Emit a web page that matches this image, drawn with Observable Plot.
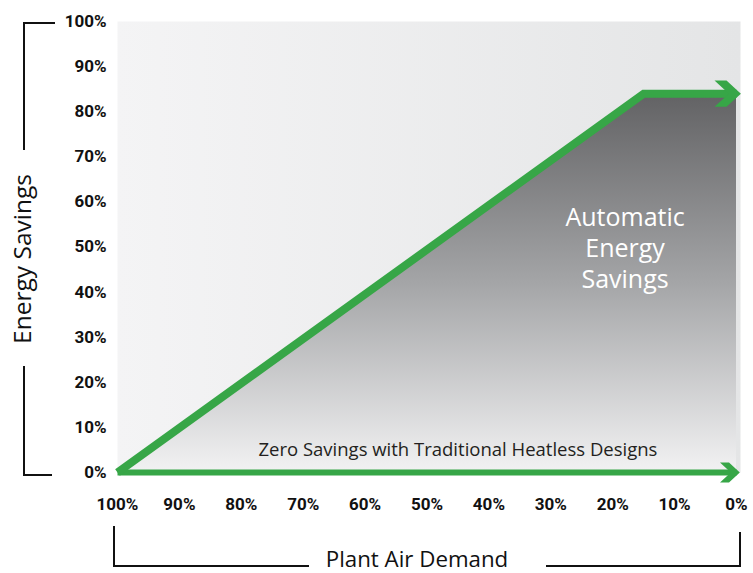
<!DOCTYPE html>
<html><head><meta charset="utf-8">
<script src="https://cdn.jsdelivr.net/npm/d3@7"></script>
<script src="https://cdn.jsdelivr.net/npm/@observablehq/plot@0.6"></script>
<style>
html,body{margin:0;padding:0;background:#fff;}
#chart svg{display:block;}
</style></head><body><div id="chart"></div>
<script>
// ---- data ----
const demandTicks = [100, 90, 80, 70, 60, 50, 40, 30, 20, 10, 0];
const savingsTicks = [0, 10, 20, 30, 40, 50, 60, 70, 80, 90, 100];
const curveDemand = [100, 15, 0];
const curveSavings = [0, 84, 84];
const baseDemand = [100, 0];
const baseSavings = [0, 0];
const xTitle = "Plant Air Demand";
const yTitle = "Energy Savings";
const areaNote = "Automatic\nEnergy\nSavings";
const baseNote = "Zero Savings with Traditional Heatless Designs";

const curve = curveDemand.map((d, i) => ({demand: d, savings: curveSavings[i]}));
const base = baseDemand.map((d, i) => ({demand: d, savings: baseSavings[i]}));

const green = "#37a647";
const tickFont = 'Roboto,"Liberation Sans Narrow","DejaVu Sans Condensed",sans-serif';
const textFont = '"Open Sans","Noto Sans",sans-serif';

function chevron(color) {
  const ns = "http://www.w3.org/2000/svg";
  const m = document.createElementNS(ns, "marker");
  m.setAttribute("viewBox", "-3 -2 4 4");
  m.setAttribute("markerWidth", 4);
  m.setAttribute("markerHeight", 4);
  m.setAttribute("refX", 0);
  m.setAttribute("refY", 0);
  m.setAttribute("orient", "auto");
  m.setAttribute("overflow", "visible");
  const p = document.createElementNS(ns, "path");
  p.setAttribute("d", "M-2.75,-1.65L-1.25,-1.65L0.55,0L-1.25,1.65L-2.75,1.65L-0.95,0Z");
  p.setAttribute("fill", color);
  p.setAttribute("stroke", "none");
  m.appendChild(p);
  return m;
}

function decor(index, scales, values, dims) {
  const g = d3.create("svg:g");
  const defs = g.append("defs");
  const bg = defs.append("linearGradient").attr("id", "bgGrad")
    .attr("x1", 0).attr("x2", 1).attr("y1", 0).attr("y2", 0);
  bg.append("stop").attr("offset", 0).attr("stop-color", "#f4f4f5");
  bg.append("stop").attr("offset", 1).attr("stop-color", "#e4e5e6");
  const ag = defs.append("linearGradient").attr("id", "areaGrad")
    .attr("x1", 0).attr("x2", 0).attr("y1", 0).attr("y2", 1);
  ag.append("stop").attr("offset", 0).attr("stop-color", "#626264");
  ag.append("stop").attr("offset", 0.5).attr("stop-color", "#a4a5a7");
  ag.append("stop").attr("offset", 1).attr("stop-color", "#f2f2f3");
  // brackets around axis titles
  const top = scales.y(100) + 2, bot = scales.y(0) + 3;
  const xl = scales.x(100) - 3, xr = dims.width - dims.marginRight;
  const yb = dims.height - 7;
  const br = g.append("g").attr("fill", "none").attr("stroke", "#111").attr("stroke-width", 2);
  br.append("path").attr("d", `M55,${top}H24V150M24,366V${bot}H52`);
  br.append("path").attr("d", `M${xl},526V${yb}H309M546,${yb}H${xr}V532`);
  return g.node();
}

const chart = Plot.plot({
  width: 753,
  height: 573,
  marginLeft: 117,
  marginRight: 13,
  marginTop: 21,
  marginBottom: 101,
  x: {domain: [100, 0], insetRight: 4},
  y: {domain: [0, 100]},
  style: {background: "#fff", color: "#111"},
  marks: [
    decor,
    Plot.frame({fill: "url(#bgGrad)", stroke: "none"}),
    Plot.areaY(curve, {x: "demand", y: "savings", fill: "url(#areaGrad)"}),
    Plot.line(base, {x: "demand", y: "savings", stroke: green, strokeWidth: 6,
      strokeLinecap: "butt", markerEnd: chevron}),
    Plot.line(curve, {x: "demand", y: "savings", stroke: green, strokeWidth: 8,
      strokeLinecap: "butt", strokeLinejoin: "miter", strokeMiterlimit: 4, markerEnd: chevron}),
    Plot.text([areaNote], {x: 18, y: 50, text: d => d, fill: "#fff", fontSize: 25,
      fontFamily: textFont, lineHeight: 1.25, textAnchor: "middle"}),
    Plot.text([baseNote], {x: 45, y: 5, text: d => d, fill: "#231f20", fontSize: 18.5,
      fontFamily: textFont, textAnchor: "middle"}),
    Plot.text([yTitle], {frameAnchor: "left", text: d => d, rotate: -90, dx: -94, dy: 12,
      fontSize: 24.5, fontFamily: textFont, fill: "#111", textAnchor: "middle"}),
    Plot.text([xTitle], {frameAnchor: "bottom", text: d => d, dx: -12, dy: 94, lineAnchor: "bottom",
      fontSize: 22.3, fontFamily: textFont, fill: "#111", textAnchor: "middle"}),
    Plot.axisY({ticks: savingsTicks, tickSize: 0, tickPadding: 11, tickFormat: d => d + "%",
      fontSize: 17, fontWeight: "bold", fontFamily: tickFont, label: null}),
    Plot.axisX({ticks: demandTicks, tickSize: 0, tickPadding: 25, tickFormat: d => d + "%",
      fontSize: 17, fontWeight: "bold", fontFamily: tickFont, label: null})
  ]
});
document.getElementById("chart").appendChild(chart);
</script></body></html>
